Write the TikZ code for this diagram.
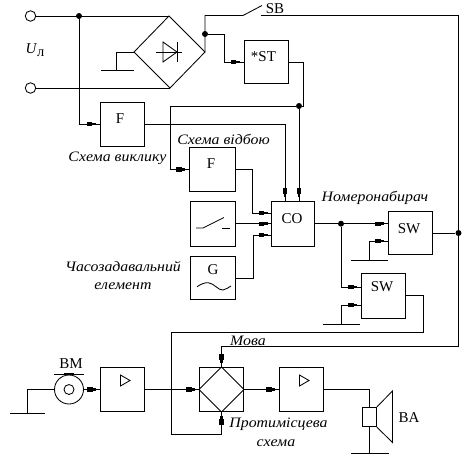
\documentclass[tikz,border=0pt]{standalone}
\usepackage{fontspec}
\setmainfont{Liberation Serif}
\newfontfamily\widesl[FakeStretch=1.1]{Liberation Serif Italic}
\usetikzlibrary{decorations.markings,calc}
\tikzset{
  wire/.style={line width=0.85pt,line join=miter},
  blk/.style={draw,line width=0.85pt,inner sep=0pt,minimum width=#1,minimum height=44pt},
  blk/.default=44pt,
  sig/.style={wire,postaction={decorate},decoration={markings,mark=at position -4pt with {\fill (-9pt,-2.2pt) rectangle (-3.5pt,2.2pt);\fill (-3.6pt,-1.4pt) rectangle (0pt,1.4pt);}}},
  dot/.style={circle,fill,inner sep=0pt,minimum size=6pt},
  term/.style={circle,draw,line width=0.85pt,inner sep=0pt,minimum size=10.5pt},
  upr/.style={font=\fontsize{15}{15}\selectfont,inner sep=0pt},
  ita/.style={font=\fontsize{14.4}{15}\selectfont\widesl,inner sep=0pt}
}
\begin{document}
\begin{tikzpicture}[x=1pt,y=-1pt]
\useasboundingbox (0,0) rectangle (467,467);
% terminals
\node[term] (t1) at (30.5,16) {};
\node[term] (t2) at (30.5,88) {};
\node[font=\fontsize{15}{15}\selectfont,inner sep=0pt] (ul) at (35,50) {\textit{U}\raisebox{-3pt}{\fontsize{14.5}{14.5}\selectfont л}};
% bridge
\coordinate (bt) at (169,16);
\coordinate (bl) at (134,52);
\coordinate (br) at (205,52);
\coordinate (bb) at (170,88);
\draw[wire] (bt) -- (br) -- (bb) -- (bl) -- cycle;
\draw[wire] (156,52) -- (182,52);
\draw[wire] (163,42) -- (163,62) -- (177,52) -- cycle;
\draw[wire] (177,42) -- (177,62);
\coordinate (g0) at (116,70);
\draw[wire] (bl) -- (116,52) -- (g0);
\draw[wire] (101,70) -- (134,70);
\node[dot] (j1) at (79,16) {};
\draw[wire] (t1) -- (bt);
\draw[wire] (t2) -- (bb);
% boxes
\node[blk] (f1) at (122.2,124) {};
\node[blk,minimum height=43pt] (st) at (266,62) {};
\node[blk=46pt] (f2) at (212.5,169.5) {};
\node[blk=45pt,minimum height=45.5pt] (sw) at (213,223.7) {};
\node[blk=45pt,minimum height=43pt] (g) at (213,278) {};
\node[blk=43pt,minimum height=45pt] (co) at (293,223.7) {};
\node[blk,minimum height=42.5pt] (sw1) at (410.3,233) {};
\node[blk,minimum height=45pt] (sw2) at (383.3,295.5) {};
\node[blk,minimum height=44pt] (a1) at (122.7,389.5) {};
\node[blk,minimum height=44pt] (hy) at (221.5,389.5) {};
\node[blk,minimum height=44pt] (a2) at (301.7,389.5) {};
\node[circle,draw,line width=0.85pt,inner sep=0pt,minimum size=29pt] (bm) at (69,389.5) {};
\node[circle,draw,line width=0.85pt,inner sep=0pt,minimum size=10pt] (bmi) at (69,389.5) {};
% box labels
\node[upr] (lf1) at (120,118.5) {F};
\node[upr] (lf2) at (211,163.5) {F};
\node[upr] (lst) at (263.5,56.5) {*ST};
\node[upr] (lco) at (292,219) {CO};
\node[upr] (lsw1) at (409,229) {SW};
\node[upr] (lsw2) at (382,287) {SW};
\node[upr] (lg) at (213,269.5) {G};
\node[upr] (lsb) at (275,8.5) {SB};
\node[upr] (lbm) at (71,363.5) {BM};
\node[upr] (lba) at (409,417.5) {BA};
% italic labels
\node[ita] (t3) at (117.5,158.5) {Схема виклику};
\node[ita] (t4) at (223.5,139) {Схема відбою};
\node[ita] (t5) at (123,266.5) {Часозадавальний};
\node[ita] (t6) at (123,286) {елемент};
\node[ita] (t7) at (375,197.5) {Номеронабирач};
\node[ita] (t8) at (248,341) {Мова};
\node[ita] (t9) at (278.5,424) {Протимісцева};
\node[ita] (t10) at (276,443) {схема};
% contents
\draw[wire] (196,228) -- (203,228) -- (224,217.5);
\draw[wire] (222,228) -- (230,228);
\draw[wire] (197,286.7) .. controls (201,284) and (205,282.5) .. (208,282.7) .. controls (214,283) and (218,290.5) .. (223,290) .. controls (226,289.7) and (229,287) .. (231,286);
\draw[wire] (120.5,375) -- (120.5,386) -- (130,380.5) -- cycle;
\draw[wire] (299.5,375) -- (299.5,386) -- (309,380.5) -- cycle;
\draw[wire] (hy.west) -- (hy.north) -- (hy.east) -- (hy.south) -- cycle;
% power path
\node[dot] (j2) at (205,34) {};
\coordinate (s1) at (243,15.5);
\coordinate (s2) at (261,15.5);
\draw[wire] (br) -- (205,15.5) -- (s1) -- (262,5.5);
\node[dot] (j3) at (458.5,233) {};
\draw[wire] (s2) -- (458.5,15.5) -- (j3);
\draw[sig] (j3) -- (458.5,346) -- (221.5,346) -- (hy.north);
\draw[sig] (j2) -- (224,34) -- (224,62) -- (st.west);
\node[dot] (j4) at (299,106) {};
\draw[wire] (st.east) -- (303,62) -- (303,106) -- (j4);
\draw[sig] (j4) -- (170,106) -- (170,169.5) -- (f2.west);
\draw[sig] (j4) -- (299,201.2);
\draw[sig] (j1) -- (79,124) -- (f1.west);
\draw[sig] (f1.east) -- (285,124) -- (285,201.2);
\draw[sig] (f2.east) -- (252.5,169.5) -- (252.5,213) -- (271.5,213);
\draw[sig] (sw.east) -- (271.5,223.7);
\draw[sig] (g.east) -- (253,278) -- (253,235) -- (271.5,235);
% dialer
\node[dot] (j5) at (341,223.7) {};
\draw[wire] (co.east) -- (j5);
\draw[sig] (j5) -- (388.3,223.7);
\draw[sig] (j5) -- (341,287) -- (361.3,287);
\draw[sig] (369,260.5) -- (369,241) -- (388.3,241);
\draw[wire] (351,260.5) -- (388,260.5);
\draw[sig] (341,324) -- (341,305) -- (361.3,305);
\draw[wire] (323,324) -- (360,324);
\draw[wire] (sw1.east) -- (j3);
\draw[sig] (sw2.east) -- (423.5,295.5) -- (423.5,332.5) -- (171.5,332.5) -- (171.5,389.5) -- (hy.west);
\draw[sig] (171.5,332.5) -- (171.5,434) -- (221.5,434) -- (hy.south);
% speech path
\draw[wire] (bm.west) -- (27,389.5) -- (27,413);
\draw[wire] (10,413) -- (45,413);
\draw[wire] (54,374) -- (84,374);
\fill (64,372.5) rectangle (74,375);
\draw[sig] (bm.east) -- (a1.west);
\draw[wire] (a1.east) -- (hy.west);
\draw[sig] (hy.east) -- (a2.west);
\node[draw,line width=0.85pt,inner sep=0pt,minimum width=14pt,minimum height=19.5pt] (sp) at (369.5,417) {};
\draw[wire] (a2.east) -- (369.5,389.5) -- (sp.north);
\draw[wire] (sp.north east) -- (392.5,391) -- (392.5,442.5) -- (sp.south east);
\draw[wire] (sp.south) -- (369.5,453);
\draw[wire] (351,453) -- (389,453);
\end{tikzpicture}
\end{document}
